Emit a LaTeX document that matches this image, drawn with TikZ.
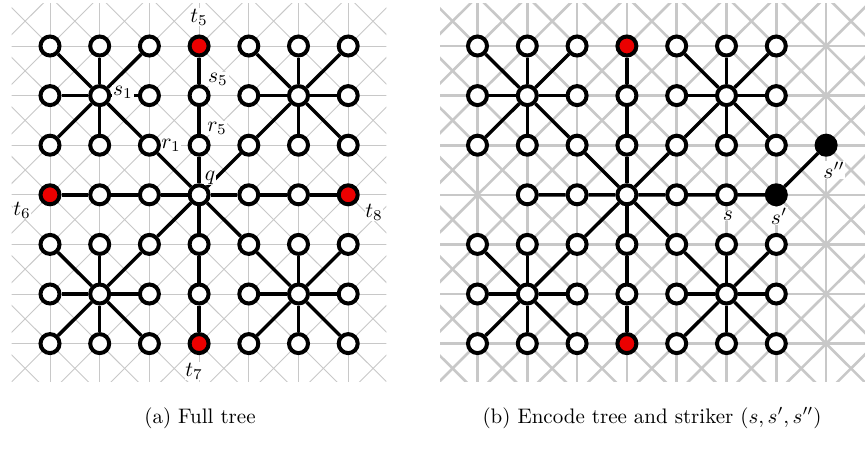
\documentclass[tikz,border=0pt]{standalone}
\definecolor{tred}{RGB}{235,0,0}
\definecolor{gridgray}{RGB}{200,200,200}
\tikzset{
  vtx/.style={circle,draw=black,line width=4pt,fill=white,minimum size=19pt,inner sep=0pt},
  tedge/.style={line width=3.4pt,black},
  lbl/.style={fill=white,inner sep=0.3pt,scale=2.15},
  captxt/.style={scale=2.1},
  gridA/.style={gridgray,line width=0.9pt},
  gridB/.style={gridgray,line width=2.6pt},
  ra30/.style={fill=tred}, ra03/.style={fill=tred}, ra63/.style={fill=tred}, ra36/.style={fill=tred},
  rb30/.style={fill=tred}, rb36/.style={fill=tred}, rb63/.style={fill=black},
}
\begin{document}
\begin{tikzpicture}[x=1pt,y=-1pt]
\useasboundingbox (0,0) rectangle (865,453);
% ---------- panel (a)
\begin{scope}[shift={(50,46)},x=49.7pt,y=-49.6pt]
  \begin{scope}
    \clip (-0.77,-0.85) rectangle (6.77,6.77);
    \foreach \k in {-1,...,7} {\draw[gridA] (-1,\k) -- (8,\k); \draw[gridA] (\k,-1) -- (\k,8);}
    \foreach \k in {-9,...,9} \draw[gridA] (-1,{-1-(\k)}) -- (8,{8-(\k)});
    \foreach \k in {-2,...,16} \draw[gridA] (-1,{(\k)+1}) -- (8,{(\k)-8});
  \end{scope}
  \foreach \i in {0,...,6}{\foreach \j in {0,...,6}{
    \node[vtx,ra\i\j/.try] (a\i\j) at (\i,\j) {};}}
  \foreach \h/\v in {1/1,5/1,1/5,5/5}{
    \foreach \dx/\dy in {-1/-1,0/-1,1/-1,-1/0,1/0,-1/1,0/1,1/1}{
      \pgfmathtruncatemacro\xx{\h+\dx}\pgfmathtruncatemacro\yy{\v+\dy}
      \draw[tedge] (a\h\v) -- (a\xx\yy);}}
  \draw[tedge] (a03)--(a13)--(a23)--(a33)--(a43)--(a53)--(a63);
  \draw[tedge] (a30)--(a31)--(a32)--(a33)--(a34)--(a35)--(a36);
  \foreach \t in {22,42,24,44} \draw[tedge] (a33)--(a\t);
\end{scope}
% ---------- panel (b)
\begin{scope}[shift={(477.5,46)},x=49.8pt,y=-49.6pt]
  \begin{scope}
    \clip (-0.75,-0.85) rectangle (7.9,6.77);
    \foreach \k in {-1,...,8} {\draw[gridB] (-1,\k) -- (9,\k); \draw[gridB] (\k,-1) -- (\k,8);}
    \foreach \k in {-9,...,10} \draw[gridB] (-1,{-1-(\k)}) -- (9,{9-(\k)});
    \foreach \k in {-2,...,18} \draw[gridB] (-1,{(\k)+1}) -- (9,{(\k)-9});
  \end{scope}
  \foreach \i in {0,...,6}{\foreach \j in {0,...,6}{
    \ifnum\i\j=3 \else \node[vtx,rb\i\j/.try] (b\i\j) at (\i,\j) {};\fi}}
  \node[vtx,fill=black] (b72) at (7,2) {};
  \foreach \h/\v in {1/1,5/1,1/5,5/5}{
    \foreach \dx/\dy in {-1/-1,0/-1,1/-1,-1/0,1/0,-1/1,0/1,1/1}{
      \pgfmathtruncatemacro\xx{\h+\dx}\pgfmathtruncatemacro\yy{\v+\dy}
      \draw[tedge] (b\h\v) -- (b\xx\yy);}}
  \draw[tedge] (b13)--(b23)--(b33)--(b43)--(b53)--(b63)--(b72);
  \draw[tedge] (b30)--(b31)--(b32)--(b33)--(b34)--(b35)--(b36);
  \foreach \t in {22,42,24,44} \draw[tedge] (b33)--(b\t);
\end{scope}
% ---------- labels
\node[lbl] (lt5) at (199,17) {$t_5$};
\node[lbl] (ls5) at (218,79) {$s_5$};
\node[lbl] (lr5) at (217,128) {$r_5$};
\node[lbl] (lr1) at (171,145) {$r_1$};
\node[lbl] (ls1) at (123,92) {$s_1$};
\node[lbl] (lq) at (210,178) {$q$};
\node[lbl] (lt6) at (22,210) {$t_6$};
\node[lbl] (lt8) at (374,212) {$t_8$};
\node[lbl] (lt7) at (194,371) {$t_7$};
\node[lbl] (ls) at (728,216) {$s$};
\node[lbl] (lsp) at (779,216) {$s'$};
\node[lbl] (lspp) at (834,170) {$s''$};
% ---------- captions
\node[captxt] (capa) at (200,418) {(a) Full tree};
\node[captxt] (capb) at (652,418) {(b) Encode tree and striker $(s,s',s'')$};
\end{tikzpicture}
\end{document}
